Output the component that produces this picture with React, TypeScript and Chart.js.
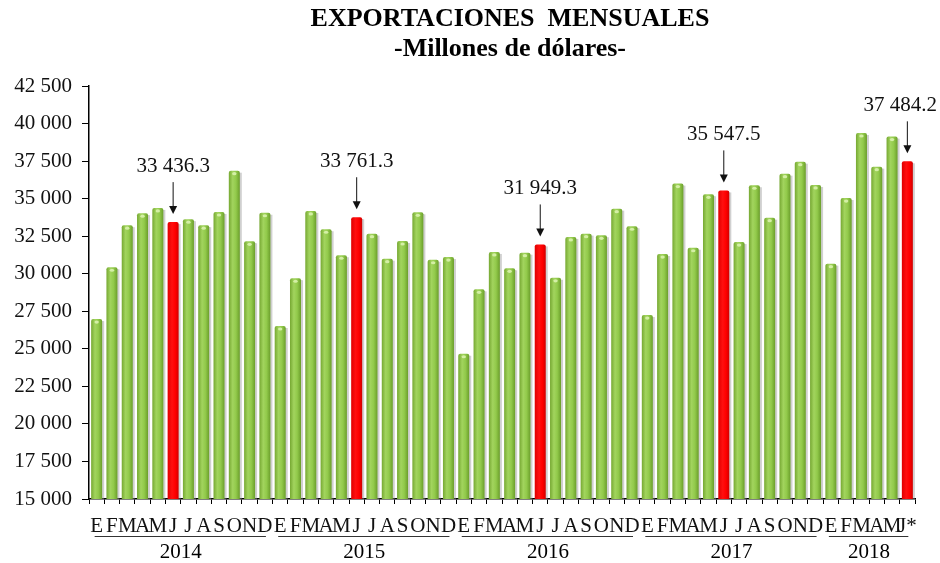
import React, { useEffect, useRef } from "react";
import { Chart, registerables } from "chart.js";

Chart.register(...registerables);

const TITLE = "EXPORTACIONES  MENSUALES";
const SUBTITLE = "-Millones de dólares-";

const MONTHS = ["E", "F", "M", "A", "M", "J", "J", "A", "S", "O", "N", "D"];
const YEARS = ["2014", "2015", "2016", "2017", "2018"];
const MONTHS_2018 = ["E", "F", "M", "A", "M", "J*"];

const values2014 = [26980, 30430, 33230, 34030, 34380, 33436.3, 33630, 33230, 34110, 36860, 32160, 34060];
const values2015 = [26520, 29700, 34180, 32960, 31230, 33761.3, 32670, 31000, 32180, 34090, 30930, 31110];
const values2016 = [24670, 28960, 31450, 30360, 31400, 31949.3, 29730, 32450, 32670, 32560, 34330, 33160];
const values2017 = [27250, 31310, 36000, 31730, 35290, 35547.5, 32110, 35890, 33730, 36660, 37460, 35910];
const values2018 = [30670, 35040, 39370, 37130, 39130, 37484.2];

// Highlighted month (June) of each year
const HIGHLIGHT_MONTH = 5;

const Y_MIN = 15000;
const Y_MAX = 42500;
const Y_STEP = 2500;

const FONT = '"Liberation Serif", "Times New Roman", serif';

function fmt(v: number, dec: number): string {
  const s = v.toFixed(dec);
  const parts = s.split(".");
  const ip = parts[0].replace(/\B(?=(\d{3})+(?!\d))/g, " ");
  return parts.length > 1 ? ip + "." + parts[1] : ip;
}

const yearValues = [values2014, values2015, values2016, values2017, values2018];
const labels: string[] = [];
const data: number[] = [];
const yearOf: number[] = [];
const highlight: boolean[] = [];
yearValues.forEach((vals, yi) => {
  vals.forEach((v, mi) => {
    const monthLabels = yi === YEARS.length - 1 ? MONTHS_2018 : MONTHS;
    labels.push(monthLabels[mi]);
    data.push(v);
    yearOf.push(yi);
    highlight.push(mi === HIGHLIGHT_MONTH);
  });
});

const BAR_PCT = 0.72;

const decorPlugin = {
  id: "decor",
  beforeDatasetsDraw(chart: any) {
    const ctx = chart.ctx;
    const meta = chart.getDatasetMeta(0);
    const bottom = chart.chartArea.bottom;
    ctx.save();
    ctx.fillStyle = "rgba(150,150,150,0.45)";
    meta.data.forEach((el: any) => {
      const w = el.width;
      const b = Math.min(el.base, bottom);
      ctx.fillRect(el.x - w / 2 + 2, el.y + 2, w, b - el.y - 2);
    });
    ctx.restore();
  },
  afterDatasetsDraw(chart: any) {
    const ctx = chart.ctx;
    const meta = chart.getDatasetMeta(0);
    ctx.save();
    meta.data.forEach((el: any, i: number) => {
      if (highlight[i]) return;
      ctx.fillStyle = "rgba(215,240,170,0.95)";
      ctx.beginPath();
      ctx.ellipse(el.x, el.y + 3, 2.2, 1.6, 0, 0, Math.PI * 2);
      ctx.fill();
    });
    ctx.restore();
  },
  afterDraw(chart: any) {
    const ctx = chart.ctx;
    const xs = chart.scales.x;
    const ys = chart.scales.y;
    const W = chart.width;
    ctx.save();
    // Titles
    ctx.fillStyle = "#000";
    ctx.textAlign = "center";
    ctx.textBaseline = "middle";
    ctx.font = "bold 26px " + FONT;
    ctx.fillText(TITLE, 510, 19);
    ctx.fillText(SUBTITLE, 510, 49);

    // Year groups
    ctx.font = "21px " + FONT;
    ctx.strokeStyle = "#333";
    ctx.lineWidth = 1;
    YEARS.forEach((yr, yi) => {
      const idx = yearOf.map((y, i) => (y === yi ? i : -1)).filter((i) => i >= 0);
      const x1 = xs.getPixelForValue(idx[0]);
      const x2 = xs.getPixelForValue(idx[idx.length - 1]);
      const ly = xs.bottom - 27;
      ctx.beginPath();
      ctx.moveTo(x1 - 2, ly + 0.5);
      ctx.lineTo(x2 + 1, ly + 0.5);
      ctx.stroke();
      ctx.fillText(yr, (x1 + x2) / 2, xs.bottom - 11);
    });

    // Annotations on highlighted bars
    ctx.font = "21px " + FONT;
    ctx.fillStyle = "#111";
    ctx.strokeStyle = "#111";
    data.forEach((v, i) => {
      if (!highlight[i]) return;
      const bx = xs.getPixelForValue(i);
      const top = ys.getPixelForValue(v);
      const txt = fmt(v, 1);
      const tw = ctx.measureText(txt).width;
      let tx = bx;
      if (tx + tw / 2 > W - 3) tx = W - 3 - tw / 2;
      const ty = top - 56;
      ctx.textAlign = "center";
      ctx.fillText(txt, tx, ty);
      const a1 = ty + 16;
      const tip = top - 8;
      ctx.lineWidth = 1;
      ctx.beginPath();
      ctx.moveTo(bx, a1);
      ctx.lineTo(bx, tip - 6);
      ctx.stroke();
      ctx.beginPath();
      ctx.moveTo(bx - 4, tip - 8);
      ctx.lineTo(bx + 4, tip - 8);
      ctx.lineTo(bx, tip);
      ctx.closePath();
      ctx.fill();
    });
    ctx.restore();
  },
};

export default function App() {
  const ref = useRef<HTMLCanvasElement | null>(null);
  useEffect(() => {
    if (!ref.current) return;
    const chart = new Chart(ref.current, {
      type: "bar",
      data: {
        labels,
        datasets: [
          {
            data,
            backgroundColor: (c: any) => {
              const chart = c.chart;
              const xs = chart.scales && chart.scales.x;
              const isRed = c.dataIndex !== undefined && highlight[c.dataIndex];
              if (!xs || c.dataIndex === undefined || !isFinite(xs.width)) {
                return isRed ? "#FF0000" : "#8CC63F";
              }
              const cx = xs.getPixelForValue(c.dataIndex);
              const w = (xs.width / labels.length) * BAR_PCT;
              const g = chart.ctx.createLinearGradient(cx - w / 2, 0, cx + w / 2, 0);
              if (isRed) {
                g.addColorStop(0, "#E00000");
                g.addColorStop(0.4, "#FF1010");
                g.addColorStop(0.7, "#FF0000");
                g.addColorStop(1, "#D00000");
              } else {
                g.addColorStop(0, "#76A832");
                g.addColorStop(0.35, "#A2D45E");
                g.addColorStop(0.65, "#92CA4B");
                g.addColorStop(1, "#6B9E2B");
              }
              return g;
            },
            barPercentage: BAR_PCT,
            categoryPercentage: 1,
            borderWidth: 0,
            borderRadius: { topLeft: 2, topRight: 2, bottomLeft: 0, bottomRight: 0 },
            borderSkipped: "bottom",
          },
        ],
      },
      options: {
        animation: false,
        responsive: false,
        maintainAspectRatio: false,
        layout: { padding: { top: 86, right: 25, left: 0, bottom: 0 } },
        plugins: {
          legend: { display: false },
          title: { display: false },
          tooltip: { enabled: false },
        },
        scales: {
          x: {
            offset: true,
            grid: {
              display: true,
              offset: true,
              drawOnChartArea: false,
              drawTicks: true,
              tickLength: 5,
              color: "#000",
              lineWidth: 1,
            },
            border: { display: true, color: "#000", width: 1.5 },
            ticks: {
              autoSkip: false,
              maxRotation: 0,
              minRotation: 0,
              padding: 10,
              color: "#111",
              font: { family: FONT, size: 21 },
            },
            afterFit: (scale: any) => {
              scale.height = 64;
            },
          },
          y: {
            min: Y_MIN,
            max: Y_MAX,
            grid: {
              display: true,
              drawOnChartArea: false,
              drawTicks: true,
              tickLength: 7,
              color: "#000",
            },
            border: { display: true, color: "#000", width: 1.5 },
            ticks: {
              stepSize: Y_STEP,
              padding: 10,
              color: "#111",
              font: { family: FONT, size: 21 },
              callback: (v: any) => fmt(Number(v), 0),
            },
            afterFit: (scale: any) => {
              scale.width = 89;
            },
          },
        },
      },
      plugins: [decorPlugin],
    });
    return () => chart.destroy();
  }, []);
  return (
    <div style={{ position: "absolute", left: 0, top: 0, width: 940, height: 563, background: "#fff" }}>
      <canvas ref={ref} width={940} height={563} style={{ display: "block", width: 940, height: 563 }} />
    </div>
  );
}
